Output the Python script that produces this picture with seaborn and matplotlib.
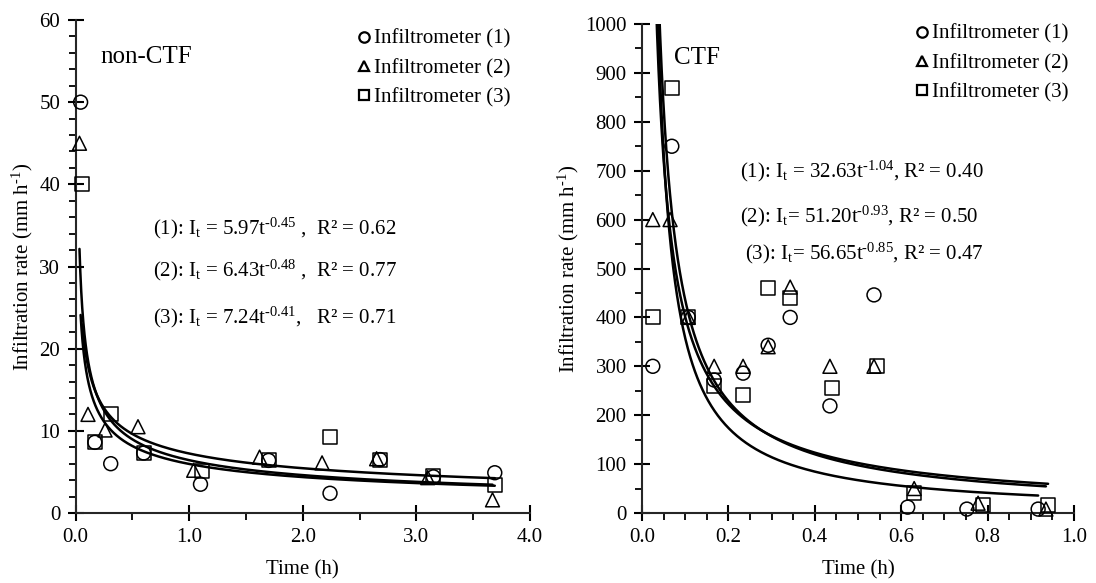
import numpy as np
import pandas as pd
import matplotlib
matplotlib.use("Agg")
import matplotlib.pyplot as plt
from matplotlib.ticker import MultipleLocator, FormatStrFormatter
import seaborn as sns

# ---------------- data ----------------
series_names = ["Infiltrometer (1)", "Infiltrometer (2)", "Infiltrometer (3)"]

# non-CTF
nc_t1 = [0.045, 0.17, 0.31, 0.60, 1.10, 1.70, 2.24, 2.68, 3.15, 3.69]
nc_v1 = [50, 8.6, 6.0, 7.3, 3.5, 6.4, 2.4, 6.5, 4.4, 4.9]
nc_t2 = [0.035, 0.11, 0.26, 0.55, 1.04, 1.62, 2.17, 2.65, 3.10, 3.67]
nc_v2 = [45, 12.0, 10.1, 10.5, 5.2, 6.8, 6.1, 6.6, 4.3, 1.6]
nc_t3 = [0.06, 0.17, 0.31, 0.60, 1.11, 1.70, 2.24, 2.68, 3.15, 3.69]
nc_v3 = [40, 8.6, 12.1, 7.3, 5.1, 6.4, 9.3, 6.5, 4.5, 3.4]
nc_a = [5.97, 6.43, 7.24]
nc_b = [0.45, 0.48, 0.41]
nc_r2 = ["0.62", "0.77", "0.71"]

# CTF
c_t1 = [0.025, 0.069, 0.107, 0.167, 0.234, 0.292, 0.343, 0.435, 0.537, 0.615, 0.752, 0.917]
c_v1 = [300, 750, 400, 272, 286, 343, 400, 219, 446, 12, 8, 8]
c_t2 = [0.025, 0.065, 0.107, 0.167, 0.234, 0.292, 0.343, 0.435, 0.537, 0.63, 0.778, 0.935]
c_v2 = [600, 600, 400, 300, 300, 340, 462, 300, 300, 50, 20, 8]
c_t3 = [0.025, 0.069, 0.107, 0.167, 0.234, 0.292, 0.343, 0.44, 0.544, 0.63, 0.79, 0.94]
c_v3 = [400, 870, 400, 260, 241, 460, 440, 255, 300, 40, 16, 16]
c_a = [32.63, 51.20, 56.65]
c_b = [1.04, 0.93, 0.85]
c_r2 = ["0.40", "0.50", "0.47"]

# ---------------- style ----------------
sns.set_theme(style="ticks")
plt.rcParams["font.family"] = ["Liberation Serif", "DejaVu Serif"]
plt.rcParams["mathtext.fontset"] = "custom"
plt.rcParams["mathtext.rm"] = "Liberation Serif"
plt.rcParams["mathtext.it"] = "Liberation Serif:italic"
plt.rcParams["axes.linewidth"] = 1.5
plt.rcParams["text.color"] = "black"
plt.rcParams["axes.labelcolor"] = "black"
plt.rcParams["xtick.color"] = "black"
plt.rcParams["ytick.color"] = "black"

markers = {series_names[0]: "o", series_names[1]: "^", series_names[2]: "s"}


def make_df(ts, vs):
    rows = []
    for name, t, v in zip(series_names, ts, vs):
        for ti, vi in zip(t, v):
            rows.append({"t": ti, "v": vi, "series": name})
    return pd.DataFrame(rows)


def curves_df(ts, a, b):
    rows = []
    for name, t, ai, bi in zip(series_names, ts, a, b):
        tt = np.geomspace(min(t), max(t), 400)
        for x in tt:
            rows.append({"t": x, "v": ai * x ** (-bi), "series": name})
    return pd.DataFrame(rows)


W, H = 1096, 583
fig = plt.figure(figsize=(W / 100, H / 100), dpi=100)
axL = fig.add_axes([75.5 / W, 1 - 513 / H, 454.5 / W, 493 / H])
axR = fig.add_axes([642 / W, 1 - 513 / H, 432 / W, 489 / H])

FS = 15
legend_anchor = {id(axL): ((349 - 75.5) / 454.5, (513 - 21) / 493),
                 id(axR): ((907 - 642) / 432, (513 - 16) / 489)}


def draw(ax, ts, vs, a, b, xlim, ylim, xmaj, xmin, ymaj, ymin, xfmt, yfmt):
    cdf = curves_df(ts, a, b)
    sns.lineplot(data=cdf, x="t", y="v", units="series", estimator=None,
                 color="black", lw=1.8, ax=ax, legend=False, sort=False)
    df = make_df(ts, vs)
    sns.scatterplot(data=df, x="t", y="v", style="series", markers=markers,
                    s=100, facecolor="none", edgecolor="black", linewidth=1.1,
                    ax=ax, legend=False, clip_on=False, zorder=3)
    ax.set_xlim(*xlim)
    ax.set_ylim(*ylim)
    ax.xaxis.set_major_locator(MultipleLocator(xmaj))
    ax.xaxis.set_minor_locator(MultipleLocator(xmin))
    ax.yaxis.set_major_locator(MultipleLocator(ymaj))
    ax.yaxis.set_minor_locator(MultipleLocator(ymin))
    ax.xaxis.set_major_formatter(FormatStrFormatter(xfmt))
    ax.yaxis.set_major_formatter(FormatStrFormatter(yfmt))
    ax.tick_params(which="major", direction="inout", length=12, width=1.5,
                   labelsize=FS, pad=5)
    ax.tick_params(which="minor", direction="out", length=5, width=1.3)
    sns.despine(ax=ax)
    ax.set_xlabel("Time (h)", fontsize=FS, labelpad=9)
    ax.set_ylabel(r"Infiltration rate (mm h$^{\text{-1}}$)", fontsize=FS, labelpad=3)
    handles = [plt.Line2D([], [], marker=markers[n], ls="none", mfc="none",
                          mec="black", mew=1.6, ms=7.5) for n in series_names]
    ax.legend(handles, series_names, loc="upper left", frameon=False,
              fontsize=FS, handlelength=0.6, handletextpad=0.2,
              labelspacing=0.46, borderaxespad=0,
              bbox_to_anchor=legend_anchor[id(ax)])


draw(axL, [nc_t1, nc_t2, nc_t3], [nc_v1, nc_v2, nc_v3], nc_a, nc_b,
     (0, 4), (0, 60), 1.0, 0.5, 10, 2, "%.1f", "%d")
draw(axR, [c_t1, c_t2, c_t3], [c_v1, c_v2, c_v3], c_a, c_b,
     (0, 1), (0, 1000), 0.2, 0.05, 100, 50, "%.1f", "%d")

# panel labels
fig.text(100 / W, 1 - 57 / H, "non-CTF", fontsize=18, va="center", ha="left")
fig.text(674 / W, 1 - 58 / H, "CTF", fontsize=18, va="center", ha="left")

# equations
eq_y_L = [228, 270, 317]
gaps_L = [" ,  ", " ,  ", ",   "]
for i in range(3):
    s = (rf"({i+1}): I$_\mathrm{{t}}$ = {nc_a[i]:.2f}t$^{{\text{{-{nc_b[i]:.2f}}}}}$"
         + gaps_L[i] + f"R² = {nc_r2[i]}")
    fig.text(153 / W, 1 - eq_y_L[i] / H, s, fontsize=FS, va="center", ha="left")

eq_y_R = [171, 216, 253]
eq_x_R = [740, 740, 745]
eq_sep = [" = ", "= ", "= "]
for i in range(3):
    s = (rf"({i+1}): I$_\mathrm{{t}}$" + eq_sep[i]
         + rf"{c_a[i]:.2f}t$^{{\text{{-{c_b[i]:.2f}}}}}$, R² = {c_r2[i]}")
    fig.text(eq_x_R[i] / W, 1 - eq_y_R[i] / H, s, fontsize=FS, va="center", ha="left")

fig.savefig("out.png", dpi=100)
